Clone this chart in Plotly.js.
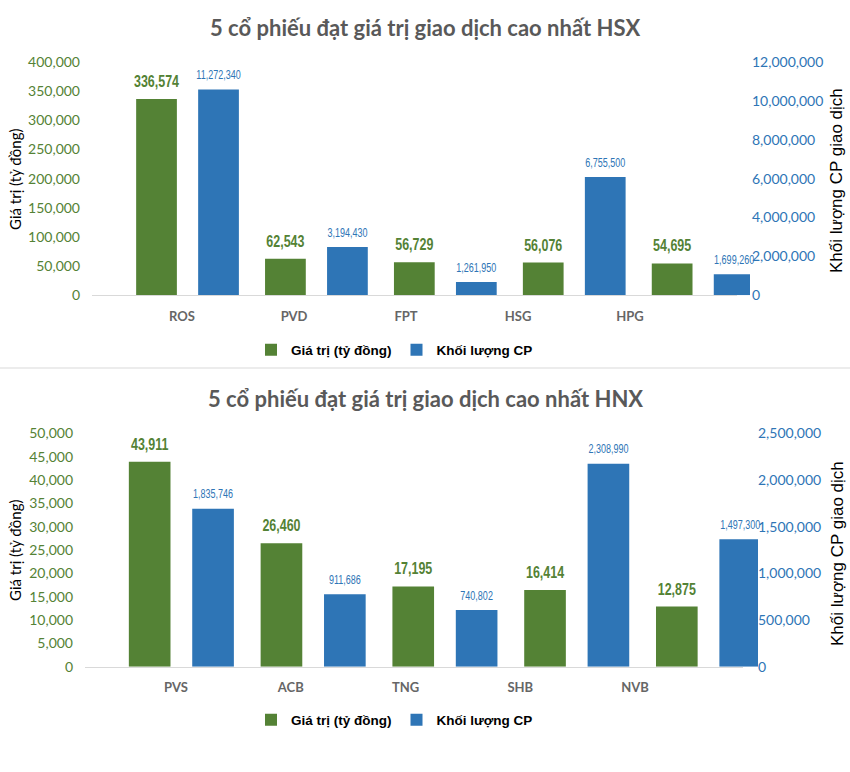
<!DOCTYPE html>
<html>
<head>
<meta charset="utf-8">
<script src="https://cdn.plot.ly/plotly-3.0.1.min.js"></script>
<style>html,body{margin:0;padding:0;background:#fff;}#chart{width:850px;height:772px;}</style>
</head>
<body>
<div id="chart"></div>
<script>
// ---- data ----
const catsHSX = ['ROS', 'PVD', 'FPT', 'HSG', 'HPG'];
const valueHSX = [336574, 62543, 56729, 56076, 54695];
const volumeLabelHSX = [11272340, 3194430, 1261950, 6755500, 1699260];
const volumeBarHSX = [10590000, 2490000, 690000, 6090000, 1080000];

const catsHNX = ['PVS', 'ACB', 'TNG', 'SHB', 'NVB'];
const valueHNX = [43911, 26460, 17195, 16414, 12875];
const volumeLabelHNX = [1835746, 911686, 740802, 2308990, 1497300];
const volumeBarHNX = [1693000, 776000, 607000, 2175000, 1365000];

const seriesNames = ['Giá trị (tỷ đồng)', 'Khối lượng CP'];
const titleHSX = '5 cổ phiếu đạt giá trị giao dịch cao nhất HSX';
const titleHNX = '5 cổ phiếu đạt giá trị giao dịch cao nhất HNX';
const leftTitle = 'Giá trị (tỷ đồng)';
const rightTitle = 'Khối lượng CP giao dịch';

// ---- styles ----
const W = 850, H = 772;
const green = '#548235', blue = '#2E75B6';
const narrow = '"Liberation Sans Narrow", "Arial Narrow", "Liberation Sans", Arial, sans-serif';
const calib = 'Lato, "Open Sans", sans-serif';
const arial = '"Liberation Sans", Arial, sans-serif';
const fmt = v => v.toLocaleString('en-US');
const px = v => v / W;
const py = v => (H - v) / H;
const barW = 0.316, offG = -0.398, offB = 0.083;
const greenLabelSize = 16.5, blueLabelSize = 12.5;
const condense = {green: 0.755, blue: 0.72};

function barTraces(cats, vals, volBars, volLabels, xa, yl, yr, legendId) {
  const idx = cats.map((c, i) => i);
  return [
    {type: 'bar', x: idx, y: vals, name: seriesNames[0], xaxis: xa, yaxis: yl,
     width: barW, offset: offG, marker: {color: green}, hoverinfo: 'skip', legend: legendId},
    {type: 'bar', x: idx, y: volBars, name: seriesNames[1], xaxis: xa, yaxis: yr,
     width: barW, offset: offB, marker: {color: blue}, hoverinfo: 'skip', legend: legendId},
    {type: 'scatter', mode: 'markers+text', x: idx.map(i => i + offG + barW / 2), y: vals,
     xaxis: xa, yaxis: yl, text: vals.map(fmt), textposition: 'top center', cliponaxis: false,
     marker: {size: 11, opacity: 0}, showlegend: false, hoverinfo: 'skip',
     textfont: {family: narrow, size: greenLabelSize, color: green, weight: 'bold'}},
    {type: 'scatter', mode: 'markers+text', x: idx.map(i => i + offB + barW / 2), y: volBars,
     xaxis: xa, yaxis: yr, text: volLabels.map(fmt), textposition: 'top center', cliponaxis: false,
     marker: {size: 10, opacity: 0}, showlegend: false, hoverinfo: 'skip',
     textfont: {family: narrow, size: blueLabelSize, color: blue}}
  ];
}
function labelTrace(cats, xa, ya) {
  return {type: 'scatter', mode: 'markers', x: cats, y: cats.map(() => 0), xaxis: xa, yaxis: ya,
          marker: {opacity: 0}, hoverinfo: 'skip', showlegend: false};
}

const data = [
  ...barTraces(catsHSX, valueHSX, volumeBarHSX, volumeLabelHSX, 'x', 'y', 'y2', 'legend'),
  labelTrace(catsHSX, 'x3', 'y'),
  ...barTraces(catsHNX, valueHNX, volumeBarHNX, volumeLabelHNX, 'x2', 'y3', 'y4', 'legend2'),
  labelTrace(catsHNX, 'x4', 'y3')
];

const hiddenX = {type: 'linear', showticklabels: false, showline: false, showgrid: false, zeroline: false, ticks: ''};
const labelX = {type: 'category', showline: true, linecolor: '#D9D9D9', linewidth: 1, showgrid: false, zeroline: false, ticks: '',
                ticklabelstandoff: 9, tickfont: {family: calib, size: 13, color: '#666666', weight: 'bold'}};
const yBase = {showgrid: false, zeroline: false, showline: false, ticks: '', tickformat: ',', anchor: 'free'};
const leftFont = {family: calib, size: 14, color: green};
const rightFont = {family: calib, size: 14, color: blue};
const legendBase = {orientation: 'h', xanchor: 'left', yanchor: 'middle', bgcolor: 'rgba(0,0,0,0)',
                    font: {family: arial, size: 13.5, color: '#000', weight: 'bold'}, itemwidth: 30, tracegroupgap: 0};
const ann = (text, x, y, font, extra) => Object.assign({text, xref: 'paper', yref: 'paper', x: px(x), y: py(y),
  xanchor: 'center', yanchor: 'middle', showarrow: false, font}, extra || {});

const layout = {
  width: W, height: H, margin: {l: 0, r: 0, t: 0, b: 0},
  paper_bgcolor: '#fff', plot_bgcolor: 'rgba(0,0,0,0)',
  barmode: 'overlay', showlegend: true, hovermode: false,
  xaxis: Object.assign({}, hiddenX, {domain: [px(123), px(750)], range: [-0.5, 4.364], anchor: 'y'}),
  xaxis3: Object.assign({}, labelX, {domain: [px(92), px(737)], range: [-0.804, 4.955], anchor: 'y'}),
  yaxis: Object.assign({}, yBase, {domain: [py(295.3), py(62)], range: [0, 400000], dtick: 50000, position: px(80), tickfont: leftFont}),
  yaxis2: Object.assign({}, yBase, {domain: [py(295.3), py(62)], range: [0, 12000000], dtick: 2000000, overlaying: 'y', side: 'right', position: px(751), tickfont: rightFont}),
  xaxis2: Object.assign({}, hiddenX, {domain: [px(115.4), px(758)], range: [-0.5, 4.376], anchor: 'y3'}),
  xaxis4: Object.assign({}, labelX, {domain: [px(85), px(743)], range: [-0.793, 4.941], anchor: 'y3'}),
  yaxis3: Object.assign({}, yBase, {domain: [py(666.7), py(433.3)], range: [0, 50000], dtick: 5000, position: px(73), tickfont: leftFont}),
  yaxis4: Object.assign({}, yBase, {domain: [py(666.7), py(433.3)], range: [0, 2500000], dtick: 500000, overlaying: 'y3', side: 'right', position: px(757), tickfont: rightFont}),
  legend: Object.assign({}, legendBase, {x: px(251), y: py(350)}),
  legend2: Object.assign({}, legendBase, {x: px(251), y: py(720)}),
  shapes: [
    {type: 'line', xref: 'paper', yref: 'paper', x0: 0, x1: 1, y0: py(368), y1: py(368), line: {color: '#D9D9D9', width: 1}}
  ],
  annotations: [
    ann(titleHSX, 425, 27, {family: calib, size: 22, color: '#595959', weight: 'bold'}),
    ann(titleHNX, 425, 398, {family: calib, size: 22, color: '#595959', weight: 'bold'}),
    ann(leftTitle, 15, 180, {family: calib, size: 15, color: '#000'}, {textangle: -90}),
    ann(rightTitle, 837, 181, {family: arial, size: 17, color: '#000'}, {textangle: -90}),
    ann(leftTitle, 15, 551, {family: calib, size: 15, color: '#000'}, {textangle: -90}),
    ann(rightTitle, 837, 554, {family: arial, size: 17, color: '#000'}, {textangle: -90})
  ]
};

// Data labels in the reference use a condensed face; compress the real text horizontally.
function condenseLabels(gd) {
  gd.querySelectorAll('.scatterlayer .textpoint text').forEach(el => {
    const fs = parseFloat(el.style.fontSize) || 12;
    const ratio = fs >= 14 ? condense.green : condense.blue;
    const len = el.getComputedTextLength();
    if (len > 0) {
      el.setAttribute('textLength', (len * ratio).toFixed(2));
      el.setAttribute('lengthAdjust', 'spacingAndGlyphs');
    }
  });
}

Plotly.newPlot('chart', data, layout, {displayModeBar: false, staticPlot: true}).then(condenseLabels);
</script>
</body>
</html>
